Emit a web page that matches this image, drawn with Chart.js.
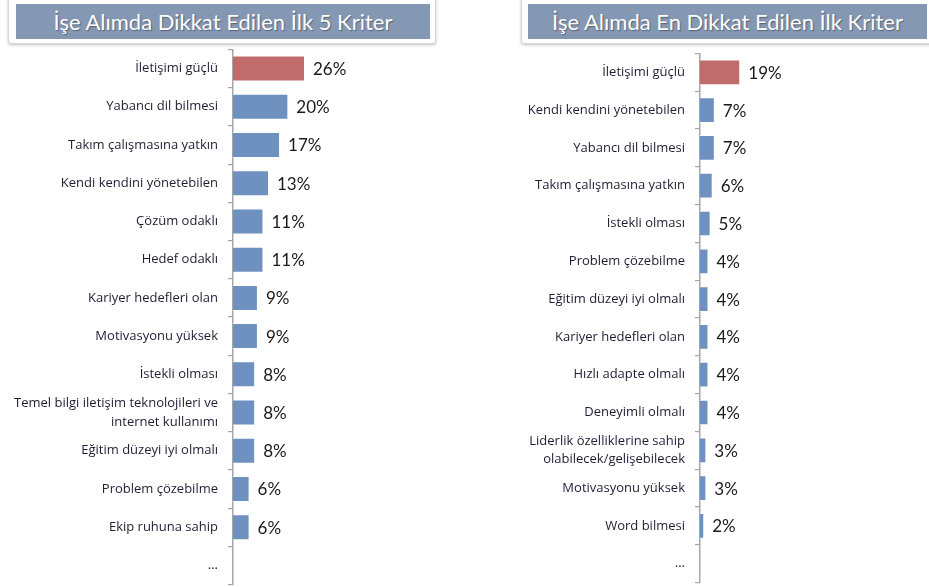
<!DOCTYPE html>
<html lang="tr">
<head>
<meta charset="UTF-8">
<title>İşe Alımda Dikkat Edilen Kriterler</title>
<script src="https://cdn.jsdelivr.net/npm/chart.js@4.4.1/dist/chart.umd.min.js"></script>
<style>
  html, body { margin: 0; padding: 0; background: #fff; overflow: hidden; width: 929px; height: 587px; }
  .frame { position: absolute; top: -4px; height: 46px; background: #fff; border: 1px solid #d8d8d8;
           box-shadow: 0 1px 3px rgba(0,0,0,0.25); border-radius: 3px; z-index: 2; }
  .title { position: absolute; top: 4px; height: 35px; background: #8497b3; color: #fff; z-index: 3;
           font-family: Lato, sans-serif; font-size: 22px; line-height: 35px; text-align: center;
           text-shadow: 1px 1px 1px rgba(0,0,0,0.35); white-space: nowrap; }
  .wrap { position: absolute; z-index: 1; }
</style>
</head>
<body>
<div class="frame" style="left:8px; width:426px;"></div>
<div class="title" style="left:16px; width:414px;">İşe Alımda Dikkat Edilen İlk 5 Kriter</div>
<div class="frame" style="left:521px; width:420px;"></div>
<div class="title" style="left:528px; width:399px;">İşe Alımda En Dikkat Edilen İlk Kriter</div>

<div class="wrap" style="left:0; top:30px; width:460px; height:574px;"><canvas id="leftChart"></canvas></div>
<div class="wrap" style="left:470px; top:34px; width:459px; height:568px;"><canvas id="rightChart"></canvas></div>

<script>
// Sol grafik: ilk 5 kriter
const leftLabels = ['İletişimi güçlü', 'Yabancı dil bilmesi', 'Takım çalışmasına yatkın', 'Kendi kendini yönetebilen',
  'Çözüm odaklı', 'Hedef odaklı', 'Kariyer hedefleri olan', 'Motivasyonu yüksek', 'İstekli olması',
  ['Temel bilgi iletişim teknolojileri ve', 'internet kullanımı'], 'Eğitim düzeyi iyi olmalı',
  'Problem çözebilme', 'Ekip ruhuna sahip', '...'];
const leftValues = [26, 20, 17, 13, 11, 11, 9, 9, 8, 8, 8, 6, 6, null];

// Sağ grafik: en dikkat edilen ilk kriter
const rightLabels = ['İletişimi güçlü', 'Kendi kendini yönetebilen', 'Yabancı dil bilmesi', 'Takım çalışmasına yatkın',
  'İstekli olması', 'Problem çözebilme', 'Eğitim düzeyi iyi olmalı', 'Kariyer hedefleri olan',
  'Hızlı adapte olmalı', 'Deneyimli olmalı', ['Liderlik özelliklerine sahip', 'olabilecek/gelişebilecek'],
  'Motivasyonu yüksek', 'Word bilmesi', '...'];
const rightValues = [19, 7, 7, 6, 5, 4, 4, 4, 4, 4, 3, 3, 2, null];

const RED = '#c06b6c';
const BLUE = '#6f91bf';

// değerleri çubukların ucuna yaz
const valueLabels = {
  id: 'valueLabels',
  afterDatasetsDraw(chart) {
    const ctx = chart.ctx;
    const meta = chart.getDatasetMeta(0);
    const data = chart.data.datasets[0].data;
    ctx.save();
    ctx.font = '17px Lato';
    ctx.fillStyle = '#1a1a1a';
    ctx.textAlign = 'left';
    ctx.textBaseline = 'middle';
    meta.data.forEach((bar, i) => {
      if (data[i] == null) return;
      ctx.fillText(data[i] + '%', bar.x + 8, bar.y + 1);
    });
    ctx.restore();
  }
};

const makeChart = (id, labels, values, axisWidth, xMax) => {
  return new Chart(document.getElementById(id), {
    type: 'bar',
    data: {
      labels: labels,
      datasets: [{
        data: values,
        backgroundColor: values.map((v, i) => i === 0 ? RED : BLUE),
        borderColor: 'rgba(255,255,255,0.9)',
        borderWidth: 1,
        borderSkipped: 'left',
        barPercentage: 0.68,
        categoryPercentage: 1
      }]
    },
    options: {
      indexAxis: 'y',
      responsive: true,
      maintainAspectRatio: false,
      animation: false,
      layout: { padding: 0 },
      plugins: { legend: { display: false }, tooltip: { enabled: false } },
      scales: {
        x: { display: false, min: 0, max: xMax },
        y: {
          afterFit: (scale) => { scale.width = axisWidth; },
          grid: { drawOnChartArea: false, offset: true, tickLength: 5, color: '#a6a6a6', lineWidth: 1.2 },
          border: { color: '#a6a6a6', width: 1.5 },
          ticks: {
            padding: 10,
            color: '#1e1e34',
            font: { family: 'Open Sans', size: 13, lineHeight: 1.45 },
            autoSkip: false
          }
        }
      }
    },
    plugins: [valueLabels]
  });
};

makeChart('leftChart', leftLabels, leftValues, 233, 82);
makeChart('rightChart', rightLabels, rightValues, 230, 108);
</script>
</body>
</html>
